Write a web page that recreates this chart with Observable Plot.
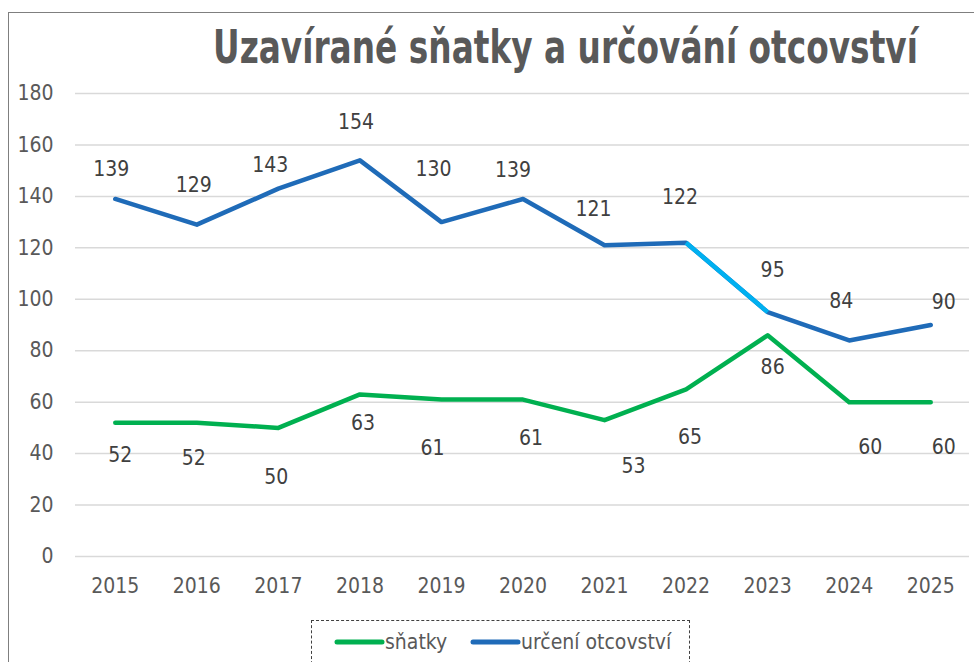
<!DOCTYPE html>
<html>
<head>
<meta charset="utf-8">
<script src="https://cdn.jsdelivr.net/npm/d3@7"></script>
<script src="https://cdn.jsdelivr.net/npm/@observablehq/plot@0.6"></script>
<style>
  html, body { margin: 0; padding: 0; background: #fff; }
  #wrap { position: relative; width: 974px; height: 662px; overflow: hidden; background: #fff; }
  #frame { position: absolute; left: 8px; top: 12px; width: 1200px; height: 900px;
           border-left: 1.5px solid #7f7f7f; border-top: 1.5px solid #7f7f7f; }
  #chart { position: absolute; left: 0; top: 0; }
  #title { position: absolute; left: 0; top: 0; }
  #legend { position: absolute; left: 311px; top: 620px; width: 379px; height: 70px;
            border: 1.5px dashed #404040; box-sizing: border-box; }
</style>
</head>
<body>
<div id="wrap">
  <div id="frame"></div>
  <div id="chart"></div>
  <svg id="title" width="974" height="90"></svg>
  <div id="legend"></div>
</div>
<script>
const titleText = "Uzavírané sňatky a určování otcovství";
const years = [2015, 2016, 2017, 2018, 2019, 2020, 2021, 2022, 2023, 2024, 2025];
const snatky = [52, 52, 50, 63, 61, 61, 53, 65, 86, 60, 60];
const otcovstvi = [139, 129, 143, 154, 130, 139, 121, 122, 95, 84, 90];
const highlightSegment = [2022, 2023];
const yTicks = [0, 20, 40, 60, 80, 100, 120, 140, 160, 180];
const seriesNames = ["sňatky", "určení otcovství"];
const colors = { snatky: "#00b050", otcovstvi: "#1f6bb8", highlight: "#00b0f0" };

// label offsets (pixels) as placed in the reference
const otcDx = [-4, -3, -8, -4, -8, -10, -11, -6, 5, -8, 13];
const otcDy = [-30, -39, -23, -38, -53, -29, -36, -45, -42, -39, -23];
const snDx = [5, -3, -2, 3, -9, 8, 29, 4, 5, 21, 13];
const snDy = [33, 36, 49, 29, 49, 39, 46, 48, 32, 45, 45];

const sn = years.map((y, i) => ({ year: y, value: snatky[i] }));
const ot = years.map((y, i) => ({ year: y, value: otcovstvi[i] }));
const hl = ot.filter(d => d.year >= highlightSegment[0] && d.year <= highlightSegment[1]);

const fontFam = '"Liberation Sans Narrow", "DejaVu Sans Condensed", "Liberation Sans", sans-serif';

const labelMarks = [];
ot.forEach((d, i) => labelMarks.push(Plot.text([d], {
  x: "year", y: "value", text: d => String(d.value), dx: otcDx[i], dy: otcDy[i],
  fill: "#404040", fontSize: 21, fontFamily: fontFam
})));
sn.forEach((d, i) => labelMarks.push(Plot.text([d], {
  x: "year", y: "value", text: d => String(d.value), dx: snDx[i], dy: snDy[i],
  fill: "#404040", fontSize: 21, fontFamily: fontFam
})));

const plot = Plot.plot({
  width: 974,
  height: 662,
  marginLeft: 74,
  marginRight: 3,
  marginTop: 93,
  marginBottom: 106,
  style: { fontFamily: fontFam, fontSize: "21px", color: "#595959", background: "transparent" },
  x: { type: "linear", domain: [2014.5, 2025.5], ticks: years, tickFormat: d => String(d), tickSize: 0, tickPadding: 22, label: null },
  y: { domain: [0, 180], ticks: yTicks, tickSize: 0, tickPadding: 21, label: null },
  marks: [
    Plot.ruleY(yTicks, { stroke: "#d9d9d9", strokeWidth: 1.5, x1: 2014.5, x2: 2025.5, insetLeft: 1, insetRight: 2 }),
    Plot.axisX({ ticks: years, tickFormat: d => String(d), tickSize: 0, tickPadding: 22, fill: "#595959", fontSize: 21, label: null }),
    Plot.axisY({ ticks: yTicks, tickSize: 0, tickPadding: 21, fill: "#595959", fontSize: 21, label: null }),
    Plot.line(sn, { x: "year", y: "value", stroke: colors.snatky, strokeWidth: 4.5, strokeLinecap: "round", strokeLinejoin: "round" }),
    Plot.line(ot, { x: "year", y: "value", stroke: colors.otcovstvi, strokeWidth: 4.5, strokeLinecap: "round", strokeLinejoin: "round" }),
    Plot.line(hl, { x: "year", y: "value", stroke: colors.highlight, strokeWidth: 4.5, strokeLinecap: "butt", strokeLinejoin: "round" }),
    ...labelMarks
  ]
});
document.getElementById("chart").appendChild(plot);

// title: condensed by a horizontal scale so that it spans the reference width
const tsvg = d3.select("#title");
const tg = tsvg.append("g");
const tt = tg.append("text")
  .attr("x", 0).attr("y", 0)
  .attr("font-family", fontFam)
  .attr("font-weight", "bold")
  .attr("font-size", 46)
  .attr("fill", "#595959")
  .text(titleText);
const natural = tt.node().getComputedTextLength() || 705;
const sx = Math.min(1, 705 / natural);
tg.attr("transform", `translate(213,63) scale(${sx},1)`);

// legend
const leg = d3.select("#legend").append("svg").attr("width", 379).attr("height", 60)
  .style("position", "absolute").style("left", "-1.5px").style("top", "-1.5px");
const legItems = [
  { name: seriesNames[0], color: colors.snatky, x1: 26, x2: 71 },
  { name: seriesNames[1], color: colors.otcovstvi, x1: 162, x2: 207 }
];
legItems.forEach(it => {
  leg.append("line").attr("x1", it.x1).attr("x2", it.x2).attr("y1", 22).attr("y2", 22)
    .attr("stroke", it.color).attr("stroke-width", 5).attr("stroke-linecap", "round");
  leg.append("text").attr("x", it.x2 + 3).attr("y", 29)
    .attr("font-family", fontFam).attr("font-size", 21).attr("fill", "#595959")
    .text(it.name);
});
</script>
</body>
</html>
